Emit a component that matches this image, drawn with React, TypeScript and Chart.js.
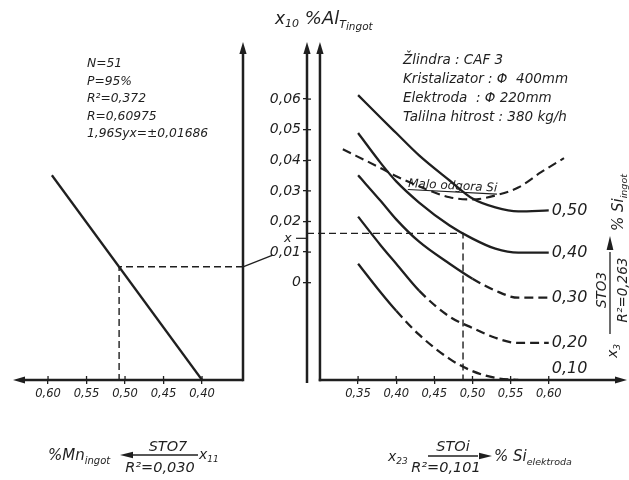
import React, { useEffect, useRef } from "react";
import { Chart, registerables } from "chart.js";

Chart.register(...registerables);

// ---------------- data ----------------
// left panel: %Mn ingot (x11) -> %Al ingot
const mnIngot = [0.595, 0.4];
const mnAl = [0.0351, -0.0318];
const mnTicks = [0.4, 0.45, 0.5, 0.55, 0.6];
const mnRefX = 0.5077;
const mnRefAl = 0.0052;

// right panel: %Si elektroda (x23) -> %Al ingot for %Si ingot levels
const siElektroda = [0.35, 0.38, 0.4, 0.43, 0.47, 0.5, 0.53, 0.56, 0.6];
const alSiIngot050 = [0.0613, 0.0538, 0.0489, 0.0416, 0.0334, 0.0275, 0.0246, 0.0233, 0.0236];
const alSiIngot040 = [0.0489, 0.039, 0.0331, 0.0262, 0.0187, 0.0144, 0.0111, 0.0098, 0.0098];
const alSiIngot030 = [0.0351, 0.0266, 0.0207, 0.0134, 0.0062, 0.0013, -0.0026, -0.0049, -0.0049];
const alSiIngot020 = [0.0216, 0.0121, 0.0062, -0.0026, -0.0111, -0.0148, -0.018, -0.0197, -0.0197];
const siElektroda010 = [0.35, 0.38, 0.4, 0.43, 0.47, 0.5, 0.53, 0.56];
const alSiIngot010 = [0.0062, -0.0033, -0.0092, -0.017, -0.0249, -0.0289, -0.0311, -0.0318];
const siElektrodaOdgor = [0.33, 0.38, 0.4, 0.43, 0.47, 0.5, 0.53, 0.56, 0.59, 0.62];
const alOdgor = [0.0436, 0.0374, 0.0348, 0.0315, 0.0279, 0.0272, 0.0285, 0.0311, 0.0361, 0.0407];
const siIngotLabels = ["0,50", "0,40", "0,30", "0,20", "0,10"];
const siTicks = [0.35, 0.4, 0.45, 0.5, 0.55, 0.6];
const alTicks = [0, 0.01, 0.02, 0.03, 0.04, 0.05, 0.06];
const siRefX = 0.4876;
const alRefY = 0.0161;
const alMarkY = 0.0145;

const statsLines = ["N=51", "P=95%", "R²=0,372", "R=0,60975", "1,96Syx=±0,01686"];
const infoLines = ["Žlindra : CAF 3", "Kristalizator : Φ  400mm", "Elektroda  : Φ 220mm", "Talilna hitrost : 380 kg/h"];

// ---------------- axis ranges ----------------
const AL_MIN = -0.0318;
const AL_MAX = 0.078;
const SI_MIN = 0.283;
const SI_MAX = 0.7;
const SI_AXIS = 0.3;
const MN_MIN = 0.3468;
const MN_MAX = 0.6429;

const INK = "#1f1f1f";
const FAM = '"DejaVu Sans", "Liberation Sans", sans-serif';
const fnt = (s: number) => `italic ${s}px ${FAM}`;
const fmt = (v: number) => (Math.abs(v) < 1e-9 ? "0" : v.toFixed(2).replace(".", ","));

type Part = [string, number, number];

function rich(ctx: CanvasRenderingContext2D, parts: Part[], x: number, y: number) {
  let cx = x;
  for (const [t, s, dy] of parts) {
    ctx.font = fnt(s);
    ctx.fillText(t, cx, y + dy);
    cx += ctx.measureText(t).width;
  }
  return cx;
}

function line(ctx: CanvasRenderingContext2D, x1: number, y1: number, x2: number, y2: number, w = 2.5) {
  ctx.lineWidth = w;
  ctx.beginPath();
  ctx.moveTo(x1, y1);
  ctx.lineTo(x2, y2);
  ctx.stroke();
}

function arrowHead(ctx: CanvasRenderingContext2D, x: number, y: number, dx: number, dy: number, len = 12, half = 3.6) {
  const bx = x - dx * len;
  const by = y - dy * len;
  ctx.beginPath();
  ctx.moveTo(x, y);
  ctx.lineTo(bx - dy * half, by + dx * half);
  ctx.lineTo(bx + dy * half, by - dx * half);
  ctx.closePath();
  ctx.fill();
}

const pts = (xs: number[], ys: number[]) => xs.map((x, i) => ({ x, y: ys[i] }));

const fixedW = (w: number) => (scale: any) => {
  scale.width = w;
};
const fixedH = (h: number) => (scale: any) => {
  scale.height = h;
};
const setTicks = (vals: number[]) => (scale: any) => {
  scale.ticks = vals.map((v) => ({ value: v }));
};

const leftPlugin = {
  id: "leftDecor",
  afterDraw(chart: any) {
    const { ctx, scales } = chart;
    const x = scales.x;
    const y = scales.y;
    ctx.save();
    ctx.strokeStyle = INK;
    ctx.fillStyle = INK;
    const y0 = y.getPixelForValue(AL_MIN);
    const yt = y.getPixelForValue(AL_MAX);
    const xr = x.getPixelForValue(MN_MIN);
    const xl = x.getPixelForValue(MN_MAX);
    line(ctx, xr, y0, xl + 8, y0);
    arrowHead(ctx, xl - 2, y0, -1, 0);
    line(ctx, xr, y0 + 1.2, xr, yt + 6);
    arrowHead(ctx, xr, yt - 2, 0, -1);
    for (const v of mnTicks) {
      const px = x.getPixelForValue(v);
      line(ctx, px, y0, px, y0 - 4, 1.3);
    }
    // leader line
    line(ctx, xr, y.getPixelForValue(mnRefAl), x.getPixelForValue(0.309), y.getPixelForValue(0.0089), 1.3);
    // statistics block
    ctx.textBaseline = "alphabetic";
    ctx.textAlign = "left";
    ctx.font = fnt(12.3);
    statsLines.forEach((t, i) => ctx.fillText(t, 87, 67 + i * 17.6));
    // bottom caption: %Mn ingot <- STO7 / R²=0,030  x11
    rich(ctx, [["%Mn", 15, 0], ["ingot", 10, 4]], 48, 460);
    line(ctx, 132, 455, 198, 455, 1.3);
    arrowHead(ctx, 120, 455, -1, 0, 13, 3.2);
    ctx.textAlign = "center";
    ctx.font = fnt(14.5);
    ctx.fillText("STO7", 168, 451);
    ctx.fillText("R²=0,030", 160, 472);
    ctx.textAlign = "left";
    rich(ctx, [["x", 14, 0], ["11", 9, 3]], 199, 459);
    ctx.restore();
  },
};

const rightPlugin = {
  id: "rightDecor",
  afterDraw(chart: any) {
    const { ctx, chartArea: a, scales } = chart;
    const x = scales.x;
    const y = scales.y;
    ctx.save();
    ctx.strokeStyle = INK;
    ctx.fillStyle = INK;
    const y0 = y.getPixelForValue(AL_MIN);
    const yt = y.getPixelForValue(AL_MAX);
    const xa = x.getPixelForValue(SI_AXIS);
    const xe = x.getPixelForValue(SI_MAX);
    // Al axis
    line(ctx, a.left, y0 + 3, a.left, yt + 6);
    arrowHead(ctx, a.left, yt - 2, 0, -1);
    for (const v of alTicks) {
      const py = y.getPixelForValue(v);
      line(ctx, a.left, py, a.left + 4, py, 1.3);
    }
    // right panel axes
    line(ctx, xa, y0 + 1.2, xa, yt + 6);
    arrowHead(ctx, xa, yt - 2, 0, -1);
    line(ctx, xa - 1.2, y0, xe - 6, y0);
    arrowHead(ctx, xe + 2, y0, 1, 0);
    for (const v of siTicks) {
      const px = x.getPixelForValue(v);
      line(ctx, px, y0, px, y0 - 4, 1.3);
    }
    // x mark on Al axis
    const ym = y.getPixelForValue(alMarkY);
    ctx.font = fnt(13);
    ctx.textAlign = "left";
    ctx.textBaseline = "middle";
    ctx.fillText("x", 284, ym);
    line(ctx, 296, ym, a.left, ym, 1.2);
    // curve labels
    const ends = [
      [siElektroda, alSiIngot050],
      [siElektroda, alSiIngot040],
      [siElektroda, alSiIngot030],
      [siElektroda, alSiIngot020],
      [siElektroda010, alSiIngot010],
    ];
    ctx.font = fnt(16);
    const lx = x.getPixelForValue(0.604);
    ends.forEach(([xs, ys], i) => {
      const py = Math.min(y.getPixelForValue(ys[ys.length - 1]), y0 - 11);
      ctx.fillText(siIngotLabels[i], lx, py);
    });
    // Malo odgora Si
    ctx.save();
    ctx.translate(408, 187);
    ctx.rotate((3 * Math.PI) / 180);
    ctx.textBaseline = "alphabetic";
    ctx.font = fnt(12);
    const t = "Malo odgora Si";
    ctx.fillText(t, 0, 0);
    const w = ctx.measureText(t).width;
    line(ctx, 0, 2.5, w, 2.5, 1.1);
    ctx.restore();
    // info block
    ctx.textBaseline = "alphabetic";
    ctx.font = fnt(13.5);
    infoLines.forEach((s, i) => ctx.fillText(s, 403, 64 + i * 19));
    // title
    rich(ctx, [["x", 17, 0], ["10", 11, 3], [" %Al", 18, 0], ["T", 11, 4], ["ingot", 10.5, 6]], 275, 24);
    // bottom caption: x23 STOi / R²=0,101 -> % Si elektroda
    rich(ctx, [["x", 14, 0], ["23", 9, 3]], 388, 461);
    line(ctx, 428, 456, 478, 456, 1.3);
    arrowHead(ctx, 492, 456, 1, 0, 13, 3.2);
    ctx.textAlign = "center";
    ctx.font = fnt(14.5);
    ctx.fillText("STOi", 453, 451);
    ctx.fillText("R²=0,101", 446, 472);
    ctx.textAlign = "left";
    rich(ctx, [["% Si", 15, 0], ["elektroda", 9.5, 4]], 494, 461);
    // rotated right caption: x3 STO3 / R²=0,263 -> % Si ingot
    ctx.save();
    ctx.rotate(-Math.PI / 2);
    rich(ctx, [["x", 14, 0], ["3", 9, 3]], -358, 617);
    ctx.textAlign = "center";
    ctx.font = fnt(13.5);
    ctx.fillText("STO3", -290, 606);
    ctx.fillText("R²=0,263", -290, 627);
    ctx.textAlign = "left";
    line(ctx, -334, 610, -252, 610, 1.3);
    arrowHead(ctx, -236, 610, 1, 0, 14, 3.4);
    rich(ctx, [["% Si", 15, 0], ["ingot", 9.5, 4]], -231, 623);
    ctx.restore();
    ctx.restore();
  },
};

const baseFont = { family: FAM, style: "italic" as const };

export default function App() {
  const leftRef = useRef<HTMLCanvasElement | null>(null);
  const rightRef = useRef<HTMLCanvasElement | null>(null);

  useEffect(() => {
    const curve = (xs: number[], ys: number[], dashFrom: number | null, extra: any = {}) => ({
      data: pts(xs, ys),
      borderColor: INK,
      borderWidth: 2.3,
      pointRadius: 0,
      fill: false,
      cubicInterpolationMode: "monotone",
      segment: {
        borderDash: (c: any) => (dashFrom !== null && c.p0.parsed.x >= dashFrom - 1e-9 ? [9, 5] : undefined),
      },
      ...extra,
    });

    const left = new Chart(leftRef.current as HTMLCanvasElement, {
      type: "line",
      data: {
        datasets: [
          {
            data: pts(mnIngot, mnAl),
            borderColor: INK,
            borderWidth: 2.3,
            pointRadius: 0,
            tension: 0,
          },
          {
            data: [
              { x: MN_MIN, y: mnRefAl },
              { x: mnRefX, y: mnRefAl },
              { x: mnRefX, y: AL_MIN },
            ],
            borderColor: INK,
            borderWidth: 1.4,
            borderDash: [7, 4],
            pointRadius: 0,
            tension: 0,
          },
        ],
      },
      options: {
        responsive: false,
        animation: false,
        events: [],
        layout: { padding: { left: 15, right: 386, top: 44, bottom: 70 } },
        plugins: { legend: { display: false }, tooltip: { enabled: false } },
        scales: {
          x: {
            type: "linear",
            reverse: true,
            min: MN_MIN,
            max: MN_MAX,
            afterBuildTicks: setTicks(mnTicks),
            afterFit: fixedH(30),
            border: { display: false },
            grid: { drawOnChartArea: false, drawTicks: true, tickLength: 4, color: INK, lineWidth: 1.3 },
            ticks: { color: INK, font: { ...baseFont, size: 11.5 }, padding: 3, maxRotation: 0, autoSkip: false, callback: (v: any) => fmt(Number(v)) },
          },
          y: {
            type: "linear",
            display: false,
            min: AL_MIN,
            max: AL_MAX,
          },
        },
      } as any,
      plugins: [leftPlugin],
    });

    const right = new Chart(rightRef.current as HTMLCanvasElement, {
      type: "line",
      data: {
        datasets: [
          curve(siElektroda, alSiIngot050, null),
          curve(siElektroda, alSiIngot040, null),
          curve(siElektroda, alSiIngot030, 0.5),
          curve(siElektroda, alSiIngot020, 0.43),
          curve(siElektroda010, alSiIngot010, 0.4),
          curve(siElektrodaOdgor, alOdgor, null, { borderDash: [9, 5], borderWidth: 2.1, segment: {} }),
          {
            data: [
              { x: SI_MIN, y: alRefY },
              { x: siRefX, y: alRefY },
              { x: siRefX, y: AL_MIN },
            ],
            borderColor: INK,
            borderWidth: 1.4,
            borderDash: [7, 4],
            pointRadius: 0,
            tension: 0,
          },
        ],
      },
      options: {
        responsive: false,
        animation: false,
        events: [],
        layout: { padding: { left: 250, right: 4, top: 44, bottom: 70 } },
        plugins: { legend: { display: false }, tooltip: { enabled: false } },
        scales: {
          x: {
            type: "linear",
            min: SI_MIN,
            max: SI_MAX,
            afterBuildTicks: setTicks(siTicks),
            afterFit: fixedH(30),
            border: { display: false },
            grid: { drawOnChartArea: false, drawTicks: true, tickLength: 4, color: INK, lineWidth: 1.3 },
            ticks: { color: INK, font: { ...baseFont, size: 11.5 }, padding: 3, maxRotation: 0, autoSkip: false, callback: (v: any) => fmt(Number(v)) },
          },
          y: {
            type: "linear",
            position: "left",
            min: AL_MIN,
            max: AL_MAX,
            afterBuildTicks: setTicks(alTicks),
            afterFit: fixedW(57),
            border: { display: false },
            grid: { drawOnChartArea: false, drawTicks: true, tickLength: 4, color: INK, lineWidth: 1.3 },
            ticks: { color: INK, font: { ...baseFont, size: 14 }, padding: 2, autoSkip: false, callback: (v: any) => fmt(Number(v)) },
          },
        },
      } as any,
      plugins: [rightPlugin],
    });

    return () => {
      left.destroy();
      right.destroy();
    };
  }, []);

  const cs: React.CSSProperties = { position: "absolute", left: 0, top: 0, width: 629, height: 480 };
  return (
    <div style={{ position: "fixed", left: 0, top: 0, width: 629, height: 480, background: "#fff" }}>
      <canvas ref={leftRef} width={629} height={480} style={cs} />
      <canvas ref={rightRef} width={629} height={480} style={cs} />
    </div>
  );
}
